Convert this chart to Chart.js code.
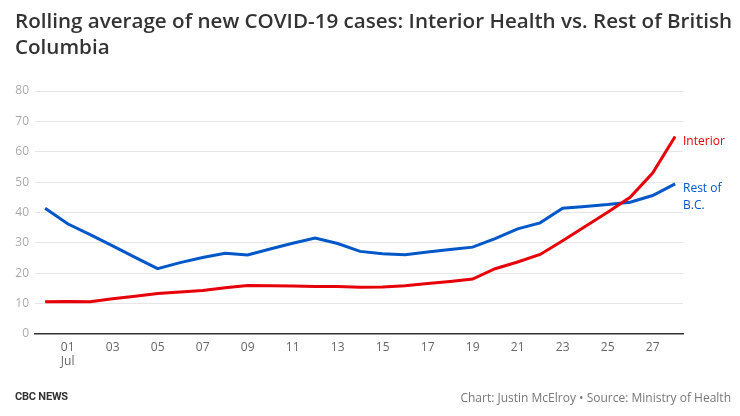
<!DOCTYPE html>
<html>
<head>
<meta charset="utf-8">
<script src="https://cdn.jsdelivr.net/npm/chart.js@4/dist/chart.umd.min.js"></script>
<style>
  body { margin: 0; background: #fff; }
  #wrap { position: relative; width: 740px; height: 416px; overflow: hidden; }
  #title { position: absolute; left: 15px; top: 7px; width: 724px; font-family: "Open Sans", sans-serif; font-weight: 600; font-size: 20.6px; line-height: 26px; color: #333; }
  #brand { position: absolute; left: 15px; top: 390px; font-family: "Roboto", sans-serif; font-weight: 700; font-size: 11px; color: #333; letter-spacing: -0.2px; }
  #source { position: absolute; right: 9px; top: 389px; font-family: "Open Sans", sans-serif; font-size: 12px; color: #777; }
  canvas { position: absolute; left: 0; top: 0; }
</style>
</head>
<body>
<div id="wrap">
  <canvas id="covidChart" width="740" height="416"></canvas>
  <div id="title">Rolling average of new COVID-19 cases: Interior Health vs. Rest of British Columbia</div>
  <div id="brand">CBC NEWS</div>
  <div id="source">Chart: Justin McElroy • Source: Ministry of Health</div>
</div>
<script>
// June 30 to July 28
const days = ['30', '01', '02', '03', '04', '05', '06', '07', '08', '09', '10', '11', '12', '13', '14',
    '15', '16', '17', '18', '19', '20', '21', '22', '23', '24', '25', '26', '27', '28'];
const interior = [10.6, 10.7, 10.6, 11.6, 12.4, 13.3, 13.8, 14.3, 15.2, 16.0, 15.9, 15.8, 15.6, 15.6, 15.4,
    15.5, 15.9, 16.6, 17.3, 18.1, 21.5, 23.7, 26.2, 30.7, 35.4, 40.1, 45.0, 53.0, 65.0];
const restOfBC = [41.4, 36.3, 32.7, 29.0, 25.2, 21.5, 23.5, 25.2, 26.6, 26.0, 28.0, 29.9, 31.6, 29.8, 27.2,
    26.4, 26.1, 27.0, 27.8, 28.6, 31.4, 34.6, 36.6, 41.4, 42.0, 42.6, 43.4, 45.6, 49.4];
const xTicks = [1, 3, 5, 7, 9, 11, 13, 15, 17, 19, 21, 23, 25, 27];
const yTicks = [0, 10, 20, 30, 40, 50, 60, 70, 80];

const red = '#e6000a';
const blue = '#0057c8';

const toPoints = arr => arr.map((v, i) => ({ x: i, y: v }));

const endLabels = {
    id: 'endLabels',
    afterDatasetsDraw(chart) {
        const ctx = chart.ctx;
        const x = chart.chartArea.right;
        ctx.save();
        ctx.font = '12px "Open Sans", sans-serif';
        ctx.textBaseline = 'middle';
        ctx.textAlign = 'left';
        chart.data.datasets.forEach((ds, di) => {
            const meta = chart.getDatasetMeta(di);
            const last = meta.data[meta.data.length - 1];
            ctx.fillStyle = ds.borderColor;
            ds.endLabel.forEach((line, li) => {
                ctx.fillText(line, x, last.y + 5 + li * 17);
            });
        });
        ctx.restore();
    }
};

const ctxCovid = document.getElementById('covidChart').getContext('2d');
new Chart(ctxCovid, {
    type: 'line',
    data: {
        datasets: [{
            label: 'Interior',
            endLabel: ['Interior'],
            data: toPoints(interior),
            borderColor: red,
            borderWidth: 3,
            pointRadius: 0,
            tension: 0
        }, {
            label: 'Rest of B.C.',
            endLabel: ['Rest of', 'B.C.'],
            data: toPoints(restOfBC),
            borderColor: blue,
            borderWidth: 3,
            pointRadius: 0,
            tension: 0
        }]
    },
    options: {
        responsive: false,
        animation: false,
        layout: {
            padding: { top: 91, right: 57, bottom: 42, left: 0 }
        },
        plugins: {
            legend: { display: false },
            tooltip: { enabled: false }
        },
        scales: {
            x: {
                type: 'linear',
                min: -0.45,
                max: 28.35,
                afterFit(scale) { scale.height = 40; },
                afterBuildTicks(scale) { scale.ticks = xTicks.map(v => ({ value: v })); },
                grid: { display: false, drawTicks: false },
                border: { display: true, color: '#333', width: 1.5 },
                ticks: {
                    autoSkip: false,
                    maxRotation: 0,
                    padding: 6,
                    color: '#666',
                    font: { family: 'Open Sans', size: 12 },
                    callback: v => v === 1 ? [days[v], 'Jul'] : days[v]
                }
            },
            y: {
                min: 0,
                max: 80,
                afterFit(scale) { scale.width = 35; },
                afterBuildTicks(scale) { scale.ticks = yTicks.map(v => ({ value: v })); },
                grid: {
                    color: ctx => ctx.tick && ctx.tick.value === 0 ? 'rgba(0,0,0,0)' : '#e6e6e6',
                    drawTicks: false
                },
                border: { display: false },
                ticks: {
                    padding: 6,
                    color: '#aaa',
                    font: { family: 'Open Sans', size: 12 }
                }
            }
        }
    },
    plugins: [endLabels]
});
</script>
</body>
</html>
